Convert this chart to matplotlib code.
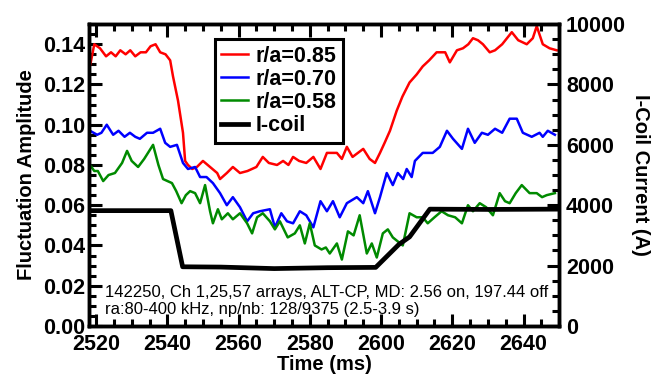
import numpy as np
import matplotlib
matplotlib.use('Agg')
import matplotlib.pyplot as plt
from matplotlib.ticker import MultipleLocator

plt.rcParams['font.family'] = ['Liberation Sans', 'DejaVu Sans']

# --- Daten ---
t_red = [2518.4, 2519.5, 2521.1, 2522.8, 2524.2, 2525.5, 2526.8, 2528.3, 2529.6, 2531.0, 2532.5,
         2534.0, 2535.3, 2536.7, 2538.0, 2539.5, 2540.8, 2541.6, 2543.0, 2544.4, 2545.0, 2545.8,
         2547.0, 2548.3, 2550.0, 2552.0, 2554.0, 2554.8, 2556.7, 2558.4, 2560.4, 2562.5, 2565.0,
         2566.8, 2568.5, 2570.8, 2572.5, 2574.0, 2575.3, 2577.0, 2579.0, 2581.0, 2583.0, 2584.8,
         2585.6, 2587.6, 2589.0, 2590.4, 2592.0, 2593.5, 2595.0, 2596.8, 2598.3, 2599.7, 2601.0,
         2602.5, 2604.4, 2606.0, 2608.0, 2610.0, 2611.7, 2613.5, 2615.6, 2618.0, 2619.3, 2621.3,
         2623.0, 2624.5, 2625.8, 2627.2, 2628.6, 2630.5, 2632.0, 2634.0, 2636.7, 2638.5, 2640.9,
         2642.6, 2643.7, 2645.4, 2647.3, 2649.3]
red = [0.130, 0.140, 0.138, 0.134, 0.136, 0.134, 0.137, 0.135, 0.137, 0.134, 0.136,
       0.136, 0.139, 0.140, 0.136, 0.135, 0.132, 0.124, 0.112, 0.096, 0.082, 0.080,
       0.078, 0.079, 0.082, 0.079, 0.076, 0.073, 0.076, 0.079, 0.076, 0.077, 0.079,
       0.084, 0.081, 0.080, 0.082, 0.080, 0.084, 0.082, 0.081, 0.084, 0.078, 0.086,
       0.086, 0.086, 0.083, 0.089, 0.084, 0.086, 0.088, 0.083, 0.081, 0.086, 0.091,
       0.097, 0.107, 0.114, 0.121, 0.125, 0.129, 0.132, 0.136, 0.136, 0.131, 0.137,
       0.138, 0.140, 0.143, 0.142, 0.140, 0.136, 0.137, 0.140, 0.146, 0.142, 0.140,
       0.143, 0.149, 0.140, 0.138, 0.137]

t_blue = [2518.3, 2520.3, 2521.5, 2523.0, 2524.8, 2526.3, 2528.0, 2529.5, 2531.0, 2532.3, 2534.3,
          2536.0, 2538.0, 2539.4, 2540.8, 2542.7, 2544.4, 2545.8, 2547.8, 2549.2, 2551.0, 2552.8,
          2554.8, 2556.7, 2558.4, 2560.4, 2562.4, 2564.1, 2566.0, 2568.8, 2570.2, 2572.0, 2573.6,
          2575.3, 2577.2, 2579.0, 2581.0, 2583.0, 2584.8, 2586.5, 2588.4, 2590.4, 2593.2, 2595.0,
          2596.3, 2598.3, 2599.7, 2601.6, 2603.3, 2604.7, 2606.2, 2607.2, 2608.6, 2609.5, 2611.7,
          2614.5, 2616.5, 2618.5, 2620.2, 2622.7, 2624.4, 2626.3, 2628.3, 2630.0, 2632.0, 2634.0,
          2636.1, 2638.1, 2639.8, 2642.3, 2644.5, 2645.4, 2646.8, 2648.8]
blue = [0.097, 0.095, 0.096, 0.100, 0.095, 0.097, 0.094, 0.096, 0.094, 0.093, 0.096,
        0.096, 0.098, 0.091, 0.089, 0.090, 0.081, 0.078, 0.079, 0.074, 0.074, 0.071,
        0.066, 0.060, 0.064, 0.059, 0.052, 0.056, 0.057, 0.058, 0.049, 0.056, 0.052,
        0.051, 0.057, 0.055, 0.049, 0.062, 0.057, 0.062, 0.054, 0.061, 0.064, 0.061,
        0.067, 0.056, 0.064, 0.076, 0.070, 0.076, 0.073, 0.078, 0.074, 0.082, 0.086,
        0.086, 0.089, 0.097, 0.093, 0.088, 0.098, 0.091, 0.096, 0.095, 0.098, 0.096,
        0.103, 0.103, 0.096, 0.094, 0.096, 0.094, 0.097, 0.095]

t_green = [2518.3, 2519.5, 2520.5, 2522.0, 2523.5, 2525.3, 2527.3, 2528.7, 2530.0, 2531.8, 2533.5,
           2536.0, 2537.5, 2538.8, 2541.3, 2542.5, 2544.0, 2545.2, 2546.4, 2547.8, 2549.2, 2550.6,
           2552.0, 2552.8, 2554.2, 2555.3, 2557.0, 2558.4, 2560.4, 2562.4, 2563.8, 2565.2, 2566.8,
           2568.8, 2570.2, 2571.6, 2573.8, 2575.8, 2577.2, 2578.6, 2580.0, 2581.4, 2583.3, 2584.5,
           2585.6, 2587.6, 2589.0, 2590.7, 2592.3, 2594.0, 2596.0, 2597.4, 2598.8, 2600.5, 2601.9,
           2603.3, 2604.7, 2606.1, 2608.0, 2610.0, 2611.7, 2613.1, 2615.0, 2617.0, 2618.8, 2620.8,
           2622.7, 2624.4, 2625.8, 2627.7, 2629.5, 2631.4, 2633.3, 2634.8, 2636.1, 2637.8, 2639.5,
           2641.7, 2643.7, 2645.2, 2646.5, 2648.8]
green = [0.080, 0.077, 0.077, 0.072, 0.075, 0.076, 0.081, 0.087, 0.082, 0.079, 0.083,
         0.090, 0.080, 0.073, 0.071, 0.067, 0.061, 0.065, 0.067, 0.066, 0.061, 0.070,
         0.057, 0.051, 0.058, 0.053, 0.056, 0.053, 0.056, 0.051, 0.046, 0.054, 0.056,
         0.052, 0.048, 0.052, 0.044, 0.046, 0.050, 0.041, 0.051, 0.040, 0.038, 0.039,
         0.036, 0.041, 0.033, 0.047, 0.045, 0.055, 0.036, 0.041, 0.034, 0.046, 0.048,
         0.044, 0.042, 0.040, 0.056, 0.054, 0.054, 0.051, 0.054, 0.057, 0.055, 0.054,
         0.051, 0.060, 0.057, 0.061, 0.059, 0.055, 0.066, 0.062, 0.061, 0.066, 0.070,
         0.066, 0.066, 0.064, 0.065, 0.066]

t_coil = [2518.0, 2541.0, 2544.3, 2555.0, 2570.0, 2585.0, 2598.5, 2605.0, 2608.0, 2613.7, 2630.0, 2650.0]
coil = [3820, 3820, 1960, 1950, 1900, 1930, 1940, 2700, 2950, 3870, 3860, 3870]

labels = ['r/a=0.85', 'r/a=0.70', 'r/a=0.58', 'I-coil']
info_text = ("142250, Ch 1,25,57 arrays, ALT-CP, MD: 2.56 on, 197.44 off\n"
             "ra:80-400 kHz, np/nb: 128/9375 (2.5-3.9 s)")

# --- Plot ---
fig = plt.figure(figsize=(6.54, 3.83), dpi=100)
ax = fig.add_axes([0.136, 0.149, 0.719, 0.788])
ax2 = ax.twinx()

l1, = ax.plot(t_red, red, color='#ff0000', lw=1.8)
l2, = ax.plot(t_blue, blue, color='#0000ff', lw=1.8)
l3, = ax.plot(t_green, green, color='#008a00', lw=1.8)
l4, = ax2.plot(t_coil, coil, color='black', lw=3.4)

ax.set_xlim(2518, 2650)
ax.set_ylim(0, 0.15)
ax2.set_ylim(0, 10000)

bold = dict(fontsize=14.5, fontweight='bold')
ax.set_xticks(np.arange(2520, 2641, 20))
ax.set_yticks(np.arange(0, 0.141, 0.02))
ax.set_yticklabels([f'{v:.2f}' for v in np.arange(0, 0.141, 0.02)])
ax.xaxis.set_minor_locator(MultipleLocator(5))
ax.yaxis.set_minor_locator(MultipleLocator(0.005))
ax2.set_yticks(np.arange(0, 10001, 2000))
ax2.yaxis.set_minor_locator(MultipleLocator(500))

ax.tick_params(axis='both', which='major', direction='in', length=9, width=2.2, labelsize=15.5, pad=3)
ax.tick_params(axis='x', which='major', pad=6)
ax.tick_params(axis='both', which='minor', direction='in', length=5, width=2.2)
ax.tick_params(axis='x', top=True, which='both')
ax2.tick_params(axis='y', which='major', direction='in', length=9, width=2.2, labelsize=15.5, pad=5)
ax2.tick_params(axis='y', which='minor', direction='in', length=5, width=2.2)
for a in (ax, ax2):
    for lbl in a.get_xticklabels() + a.get_yticklabels():
        lbl.set_fontweight('bold')
    for s in a.spines.values():
        s.set_linewidth(2.5)

ax.set_xlabel('Time (ms)', labelpad=0, **bold)
ax.set_ylabel('Fluctuation Amplitude', labelpad=5, **bold)
ax2.set_ylabel('I-Coil Current (A)', rotation=270, labelpad=17, **bold)

ax.text(2522.5, 0.0045, info_text, fontsize=12, linespacing=1.15, va='bottom', ha='left')

leg = ax2.legend([l1, l2, l3, l4], labels, loc='upper left', bbox_to_anchor=(0.268, 0.95),
                 fancybox=False, framealpha=1, edgecolor='black', handlelength=1.25,
                 handletextpad=0.35, borderpad=0.3, labelspacing=0.1, borderaxespad=0,
                 prop=dict(size=15.5, weight='bold'))
leg.get_frame().set_linewidth(2.2)

fig.savefig('out.png', dpi=100)
